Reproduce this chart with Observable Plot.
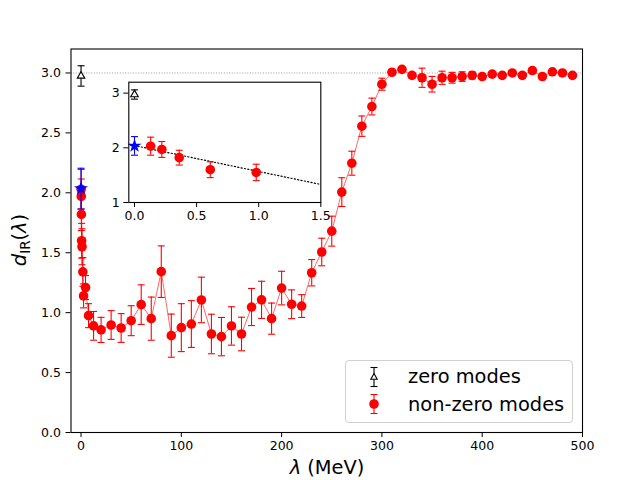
<!DOCTYPE html>
<html>
<head>
<meta charset="utf-8">
<script src="https://cdn.jsdelivr.net/npm/d3@7"></script>
<script src="https://cdn.jsdelivr.net/npm/@observablehq/plot@0.6"></script>
<style>
  body { margin: 0; background: white; font-family: "DejaVu Sans", sans-serif; }
  #wrap { position: relative; width: 640px; height: 480px; overflow: hidden; }
  #inset { position: absolute; left: 98px; top: 77px; }
  #legend {
    position: absolute; left: 345px; top: 360px; width: 226px; height: 61px;
    border: 1px solid #d0d0d0; border-radius: 4px; background: rgba(255,255,255,0.8);
    font-size: 19.4px; color: black;
  }
  .entry { position: absolute; left: 0; height: 26px; display: flex; align-items: center; }
  .entry svg { margin-left: 18px; margin-right: 24px; }
  #xlabel { position: absolute; left: 227px; width: 200px; top: 457px; text-align: center; font-size: 19.4px; line-height: 22px; }
  #ylabel {
    position: absolute; left: 20px; top: 240px; font-size: 19.4px; white-space: nowrap;
    transform: translate(-50%, -50%) rotate(-90deg);
  }
  #ylabel sub { font-size: 13.5px; vertical-align: -4px; }
</style>
</head>
<body>
<div id="wrap">
  <div id="main"></div>
  <div id="inset"></div>
  <div id="legend"></div>
  <div id="xlabel"><i>λ</i> (MeV)</div>
  <div id="ylabel"><i>d</i><sub>IR</sub>(<i>λ</i>)</div>
</div>
<script>
// non-zero modes: lambda (MeV), d_IR, error
const lambdaMeV = [0.13, 0.22, 0.36, 0.61, 0.98, 1.8, 2.5, 4.5, 7.5, 12.5,
  20, 30, 40, 50, 60, 70, 80, 90, 100, 110, 120, 130, 140, 150, 160, 170, 180, 190,
  200, 210, 220, 230, 240, 250, 260, 270, 280, 290, 300, 310, 320, 330, 340, 350,
  360, 370, 380, 390, 400, 410, 420, 430, 440, 450, 460, 470, 480, 490];
const dIR = [2.03, 1.97, 1.82, 1.60, 1.55, 1.34, 1.14, 1.21, 0.975, 0.89,
  0.856, 0.897, 0.872, 0.933, 1.067, 0.95, 1.342, 0.808, 0.875, 0.905, 1.106, 0.822, 0.80, 0.889, 0.822, 1.047, 1.107, 0.95,
  1.205, 1.07, 1.055, 1.333, 1.506, 1.68, 2.006, 2.247, 2.556, 2.72, 2.906, 3.006, 3.03, 2.98, 2.96, 2.906,
  2.96, 2.96, 2.97, 2.98, 2.97, 2.99, 2.98, 3.00, 2.98, 3.02, 2.97, 3.01, 3.00, 2.98];
const dErr = [0.165, 0.145, 0.135, 0.145, 0.15, 0.12, 0.1, 0.1, 0.1, 0.12,
  0.105, 0.12, 0.12, 0.125, 0.165, 0.18, 0.215, 0.18, 0.2, 0.195, 0.19, 0.165, 0.16, 0.16, 0.14, 0.155, 0.155, 0.13,
  0.14, 0.12, 0.095, 0.11, 0.115, 0.125, 0.12, 0.10, 0.085, 0.07, 0.05, 0.02, 0.015, 0.02, 0.08, 0.065,
  0.055, 0.045, 0.04, 0.03, 0.02, 0.02, 0.02, 0.02, 0.02, 0.02, 0.02, 0.02, 0.02, 0.02];

// zero modes
const zeroLambda = [0];
const zeroD = [2.975];
const zeroErr = [0.085];

// lowest (extrapolated) point, blue star
const starLambda = [0];
const starD = [2.035];
const starErr = [0.17];

// dotted fit line in the inset
const fitLambda = [0, 1.5];
const fitD = [2.04, 1.33];

const mainXTicks = [0, 100, 200, 300, 400, 500];
const mainYTicks = [0, 0.5, 1, 1.5, 2, 2.5, 3];
const insetXTicks = [0, 0.5, 1, 1.5];
const insetYTicks = [1, 2, 3];
const legendLabels = ["zero modes", "non-zero modes"];

const RED = "#ff0000";
const BLUE = "#0000ff";

const rows = (xs, ys, es) => xs.map((x, i) => ({x, y: ys[i], lo: ys[i] - (es ? es[i] : 0), hi: ys[i] + (es ? es[i] : 0)}));
const nonZero = rows(lambdaMeV, dIR, dErr);
const zero = rows(zeroLambda, zeroD, zeroErr);
const star = rows(starLambda, starD, starErr);
const fit = rows(fitLambda, fitD);

// horizontal error bar cap as a dot symbol
const capSymbol = {
  draw(context, size) {
    const w = Math.sqrt(size / Math.PI);
    context.moveTo(-w, 0);
    context.lineTo(w, 0);
  }
};

function errorBars(data, color) {
  return [
    Plot.ruleX(data, {x: "x", y1: "lo", y2: "hi", stroke: color, strokeWidth: 1.1}),
    Plot.dot(data, {x: "x", y: "lo", symbol: capSymbol, r: 3.5, fill: "none", stroke: color, strokeWidth: 1.1}),
    Plot.dot(data, {x: "x", y: "hi", symbol: capSymbol, r: 3.5, fill: "none", stroke: color, strokeWidth: 1.1})
  ];
}

const mainPlot = Plot.plot({
  width: 640,
  height: 480,
  marginLeft: 70.5,
  marginRight: 58,
  marginTop: 48.5,
  marginBottom: 48,
  style: {fontFamily: "DejaVu Sans", fontSize: "12.5px", background: "white", color: "black"},
  x: {domain: [-10, 500], ticks: mainXTicks, tickFormat: d3.format("d"), label: null, tickSize: 5, tickPadding: 4},
  y: {domain: [0, 3.2], ticks: mainYTicks, tickFormat: d3.format(".1f"), label: null, tickSize: 5, tickPadding: 5},
  marks: [
    Plot.ruleY([3.0], {stroke: "#808080", strokeWidth: 0.8, strokeDasharray: "1,1.6"}),
    Plot.line(nonZero, {x: "x", y: "y", stroke: RED, strokeWidth: 0.8, strokeOpacity: 0.75}),
    ...errorBars(nonZero, RED),
    Plot.dot(nonZero, {x: "x", y: "y", r: 4.8, fill: RED}),
    ...errorBars(zero, "black"),
    Plot.dot(zero, {x: "x", y: "y", symbol: "triangle", r: 2.8, fill: "white", stroke: "black", strokeWidth: 1.1}),
    ...errorBars(star, BLUE),
    Plot.dot(star, {x: "x", y: "y", symbol: "star", r: 4.4, fill: BLUE}),
    Plot.frame({stroke: "black", strokeWidth: 1.1})
  ]
});
document.getElementById("main").appendChild(mainPlot);

const insetData = nonZero.filter((d) => d.x <= 1.5);
const insetPlot = Plot.plot({
  width: 232,
  height: 150,
  marginLeft: 30.3,
  marginRight: 9.7,
  marginTop: 4.7,
  marginBottom: 25,
  style: {fontFamily: "DejaVu Sans", fontSize: "12.5px", background: "none", color: "black", overflow: "visible"},
  x: {domain: [-0.046, 1.5], ticks: insetXTicks, tickFormat: d3.format(".1f"), label: null, tickSize: 5, tickPadding: 4},
  y: {domain: [1, 3.2], ticks: insetYTicks, tickFormat: d3.format("d"), label: null, tickSize: 5, tickPadding: 4},
  marks: [
    Plot.frame({fill: "white"}),
    Plot.line(fit, {x: "x", y: "y", stroke: "black", strokeWidth: 1.2, strokeDasharray: "1.2,2.2", clip: true}),
    ...errorBars(insetData, RED),
    Plot.dot(insetData, {x: "x", y: "y", r: 4.8, fill: RED, clip: true}),
    ...errorBars(zero, "black"),
    Plot.dot(zero, {x: "x", y: "y", symbol: "triangle", r: 2.8, fill: "white", stroke: "black", strokeWidth: 1.1}),
    ...errorBars(star, BLUE),
    Plot.dot(star, {x: "x", y: "y", symbol: "star", r: 4.4, fill: BLUE}),
    Plot.frame({stroke: "black", strokeWidth: 1.1})
  ]
});
document.getElementById("inset").appendChild(insetPlot);

// legend swatches: marker with its error bar
function swatch(kind) {
  const color = kind === "zero" ? "black" : RED;
  const marker = kind === "zero"
    ? `<path d="M10,6.6 L13.2,12.2 L6.8,12.2 Z" fill="white" stroke="black" stroke-width="1.1"/>`
    : `<circle cx="10" cy="10" r="4.8" fill="${RED}"/>`;
  return `<svg width="20" height="20" viewBox="0 0 20 20" style="overflow:visible">
    <line x1="10" y1="0.5" x2="10" y2="19.5" stroke="${color}" stroke-width="1.1"/>
    <line x1="6.5" y1="0.5" x2="13.5" y2="0.5" stroke="${color}" stroke-width="1.1"/>
    <line x1="6.5" y1="19.5" x2="13.5" y2="19.5" stroke="${color}" stroke-width="1.1"/>
    ${marker}</svg>`;
}
const legend = document.getElementById("legend");
legendLabels.forEach((label, i) => {
  const e = document.createElement("div");
  e.className = "entry";
  e.style.top = (2.5 + i * 27.6) + "px";
  e.innerHTML = swatch(i === 0 ? "zero" : "nonzero") + `<span>${label}</span>`;
  legend.appendChild(e);
});
</script>
</body>
</html>
